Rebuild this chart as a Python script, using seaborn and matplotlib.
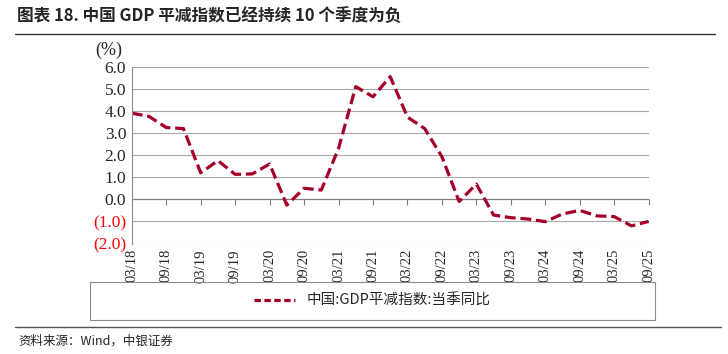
import numpy as np
import pandas as pd
import matplotlib
matplotlib.use('Agg')
import matplotlib.pyplot as plt
import seaborn as sns
from matplotlib.patches import Rectangle
from matplotlib.lines import Line2D

sns.set_style('white')
plt.rcParams['font.family'] = ['Liberation Serif', 'Noto Sans CJK SC', 'DejaVu Sans']

# 数据：2018Q1 - 2025Q3 当季同比（%）
quarters = ['03/18', '06/18', '09/18', '12/18', '03/19', '06/19', '09/19', '12/19',
            '03/20', '06/20', '09/20', '12/20', '03/21', '06/21', '09/21', '12/21',
            '03/22', '06/22', '09/22', '12/22', '03/23', '06/23', '09/23', '12/23',
            '03/24', '06/24', '09/24', '12/24', '03/25', '06/25', '09/25']
deflator = [3.9, 3.75, 3.25, 3.2, 1.2, 1.75, 1.13, 1.15,
            1.6, -0.26, 0.5, 0.42, 2.3, 5.1, 4.64, 5.55,
            3.72, 3.2, 1.93, -0.1, 0.69, -0.71, -0.83, -0.89,
            -1.01, -0.66, -0.5, -0.75, -0.78, -1.2, -1.0]
y_ticks = [6.0, 5.0, 4.0, 3.0, 2.0, 1.0, 0.0, -1.0, -2.0]

series_name = '中国:GDP平减指数:当季同比'
red = '#A5002A'

df = pd.DataFrame({'idx': np.arange(len(quarters)), 'val': deflator})

fig = plt.figure(figsize=(7.28, 3.54), dpi=100)
ax = fig.add_axes([0.181, 0.312, 0.71, 0.4996])

sns.lineplot(data=df, x='idx', y='val', ax=ax, color=red, linewidth=2.3)
ax.lines[0].set_linestyle((0, (3.4, 1.5)))

ax.set_xlim(0, len(quarters) - 1)
ax.set_ylim(-2, 6)
ax.set_xlabel('')
ax.set_ylabel('')

# 网格
for v in y_ticks:
    if v == 0:
        continue
    ax.axhline(v, color='#A8A8A8', lw=0.8, zorder=0)
ax.axhline(0, color='#7F7F7F', lw=0.9, zorder=1)

for s in ['top', 'right', 'bottom']:
    ax.spines[s].set_visible(False)
ax.spines['left'].set_color('#8C8C8C')
ax.spines['left'].set_linewidth(0.8)

ax.set_yticks(y_ticks)
ylabels = ['%.1f' % v if v >= 0 else '(%.1f)' % abs(v) for v in y_ticks]
ax.set_yticklabels(ylabels, fontsize=12.5)
for lab, v in zip(ax.get_yticklabels(), y_ticks):
    if v < 0:
        lab.set_color('#FF0000')
ax.tick_params(axis='y', length=0, pad=4)

tick_pos = df['idx'][::2]
ax.set_xticks(tick_pos)
ax.set_xticklabels(quarters[::2], rotation=90, fontsize=10.5)
ax.tick_params(axis='x', length=0, pad=4)

# 零轴刻度
sec = ax.secondary_xaxis(0.25)
sec.set_xticks(tick_pos)
sec.tick_params(axis='x', length=4, color='#7F7F7F', labelbottom=False, width=0.8)
sec.spines['bottom'].set_visible(False)

ax.text(-0.071, 1.095, '(%)', transform=ax.transAxes, fontsize=13, ha='left', va='center')

# 标题
fig.text(0.024, 0.955, '图表 18. 中国 GDP 平减指数已经持续 10 个季度为负',
         fontsize=12, fontweight='bold', ha='left', va='center',
         family=['Noto Sans CJK SC', 'DejaVu Sans'])
fig.add_artist(Line2D([0.02, 0.982], [0.905, 0.905], color='#333333', lw=1.0))

# 图例框
fig.add_artist(Rectangle((0.124, 0.096), 0.776, 0.107, transform=fig.transFigure,
                         fill=False, edgecolor='#8C8C8C', lw=0.8))
handle = Line2D([], [], color=red, lw=2.3, linestyle=(0, (2.0, 1.1)))
leg = fig.legend([handle], [series_name], loc='center', bbox_to_anchor=(0.512, 0.15),
                 frameon=False, handlelength=2.8,
                 prop={'family': ['Noto Sans CJK SC', 'DejaVu Sans'], 'size': 10.5})

# 来源
fig.add_artist(Line2D([0.02, 0.99], [0.077, 0.077], color='#555555', lw=1.0))
fig.text(0.025, 0.036, '资料来源：Wind，中银证券', fontsize=9, style='italic',
         ha='left', va='center', family=['Noto Sans CJK SC', 'DejaVu Sans'])

fig.savefig('out.png', dpi=100)
